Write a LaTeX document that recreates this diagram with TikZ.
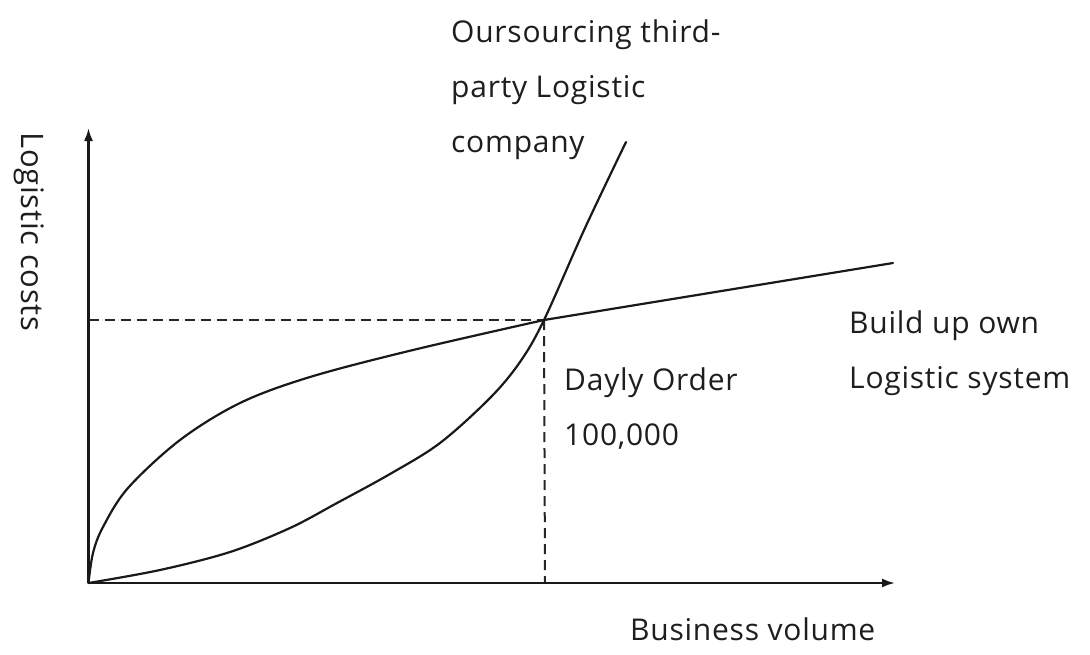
\documentclass[tikz,border=0pt]{standalone}
\usepackage{fontspec}
\setmainfont{Open Sans}[LetterSpace=2.5]
\usetikzlibrary{arrows.meta}
\definecolor{txt}{HTML}{1E1E1E}
\begin{document}
\begin{tikzpicture}[x=1pt,y=-1pt,
  axis/.style={line width=2.2pt, draw=black!90, -{Latex[length=13pt,width=9pt]}},
  curve/.style={line width=2.2pt, draw=black!90, line join=round, line cap=round},
  guide/.style={line width=2pt, draw=black!85, dash pattern=on 10pt off 6pt},
  lbl/.style={font=\fontsize{30}{55}\selectfont, text=txt, inner sep=0pt, anchor=base west, align=left}]
\useasboundingbox (0,0) rectangle (1090,654);
\coordinate (O) at (88.5,583);
\coordinate (ytop) at (88.5,128);
\coordinate (xend) at (895,583);
\coordinate (X) at (544,320);
\coordinate (ownend) at (893,263);
\coordinate (outend) at (626,142);
\coordinate (yproj) at (88.5,320);
\coordinate (xproj) at (545,583);
% guides
\draw[guide] (yproj) -- (X);
\draw[guide] (X) -- (xproj);
% axes
\draw[axis] (O) -- (ytop);
\draw[axis] (O) -- (xend);
% build own logistic system
\draw[curve] plot[smooth, tension=0.55] coordinates {(88.5,583) (93,553) (103,527) (128,488) (180,440) (240,403) (310,377) (413,350) (544,320)} -- (ownend);
% outsourcing
\draw[curve] plot[smooth, tension=0.55] coordinates {(88.5,583) (160,570) (230,552) (290,528) (337,503) (390,474) (440,443) (490,398) (520,362) (544,320) (585,228) (626,142)};
% labels
\node[lbl] (out) at (451,152) {Oursourcing third-\\party Logistic\\company};
\node[lbl] (own) at (849,388) {Build up own\\Logistic system};
\node[lbl] (order) at (564,445) {Dayly Order\\100,000};
\node[lbl] (bv) at (630,640) {Business volume};
\node[lbl, rotate=-90, font=\fontsize{31}{55}\selectfont] (lc) at (21,132) {Logistic costs};
\end{tikzpicture}
\end{document}
